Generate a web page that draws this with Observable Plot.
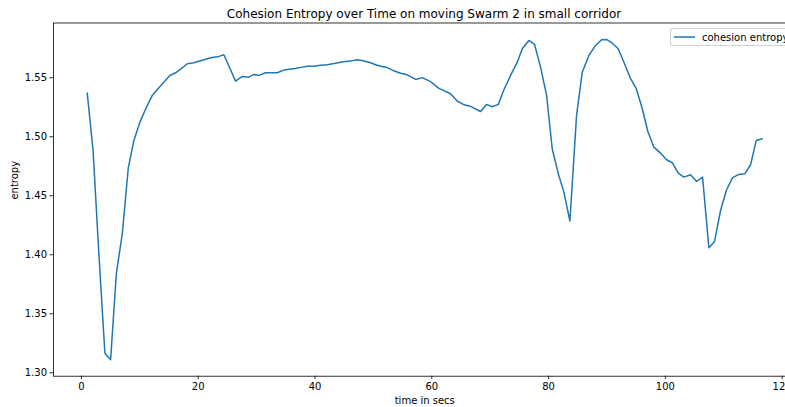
<!DOCTYPE html>
<html>
<head>
<meta charset="utf-8">
<script src="https://cdn.jsdelivr.net/npm/d3@7"></script>
<script src="https://cdn.jsdelivr.net/npm/@observablehq/plot@0.6"></script>
<style>
  html, body { margin: 0; padding: 0; background: #fff; overflow: hidden; }
  body { width: 785px; height: 407px; position: relative; font-family: "DejaVu Sans", sans-serif; }
  #title {
    width: 785px; height: 22px; box-sizing: border-box; padding-top: 5px; padding-left: 63px;
    line-height: 18px; font-size: 12px; text-align: center; color: #000; white-space: nowrap;
  }
  #chart { width: 785px; overflow: hidden; }
  #chart svg { overflow: hidden; display: block; }
  #legend {
    position: absolute; left: 670px; top: 28px; height: 18px; width: 115px;
    box-sizing: border-box; border: 1px solid #d0d0d0; border-right: none; border-radius: 3px 0 0 3px;
    background: rgba(255,255,255,0.8); font-size: 10px; color: #000; overflow: hidden;
    display: flex; align-items: center; padding-left: 3px; white-space: nowrap;
  }
  #legend svg { margin-right: 7px; flex: none; }
</style>
</head>
<body>
<div id="title">Cohesion Entropy over Time on moving Swarm 2 in small corridor</div>
<div id="chart"></div>
<div id="legend"><svg width="21" height="6"><line x1="0" x2="21" y1="3" y2="3" stroke="#1f77b4" stroke-width="1.5"/></svg><span>cohesion entropy</span></div>
<script>
// Sample times (seconds) and the cohesion entropy measured at each
const time = [1.0, 2.0, 3.0, 4.02, 5.0, 5.98, 7.0, 8.03, 8.99, 10.02, 11.04, 12.14, 13.08, 14.07, 15.15,
  16.13, 17.16, 18.13, 19.26, 20.24, 21.18, 22.12, 23.54, 24.4, 26.4, 27.55, 28.68, 29.54, 30.39, 31.54,
  32.56, 33.54, 34.67, 35.57, 36.6, 37.6, 38.68, 39.81, 40.96, 42.1, 43.27, 44.38, 45.2, 46.1, 47.12,
  48.1, 49.52, 50.38, 51.23, 52.38, 53.37, 54.66, 55.8, 57.23, 58.37, 59.79, 61.22, 63.22, 64.37, 65.5,
  66.64, 68.36, 69.38, 70.36, 71.39, 72.35, 73.49, 74.64, 75.5, 76.63, 77.6, 78.63, 79.66, 80.63, 81.66,
  82.62, 83.65, 84.79, 85.77, 86.9, 88.05, 89.08, 89.93, 90.91, 91.93, 93.01, 94.04, 95.02, 96.05, 97.0,
  98.03, 99.18, 100.21, 101.18, 102.21, 103.17, 104.31, 105.34, 106.37, 107.45, 108.42, 109.45, 110.48,
  111.51, 112.59, 113.61, 114.59, 115.57, 116.59];

const entropy = [1.537, 1.488, 1.400, 1.3166, 1.311, 1.3839, 1.4178, 1.4737, 1.4969, 1.5124, 1.524, 1.535,
  1.5405, 1.546, 1.5519, 1.5542, 1.558, 1.5619, 1.5627, 1.5642, 1.5655, 1.5669, 1.5681, 1.5695, 1.5471,
  1.5511, 1.5505, 1.5528, 1.552, 1.5542, 1.5542, 1.5542, 1.5565, 1.5572, 1.5579, 1.5588, 1.5597, 1.5598,
  1.5605, 1.561, 1.562, 1.5631, 1.5637, 1.5641, 1.5653, 1.5647, 1.5627, 1.561, 1.5598, 1.5586, 1.5562,
  1.5538, 1.5525, 1.5486, 1.5501, 1.5467, 1.541, 1.5364, 1.5301, 1.5272, 1.5258, 1.5214, 1.5274, 1.5254,
  1.5274, 1.5398, 1.552, 1.5632, 1.5746, 1.5816, 1.5782, 1.559, 1.535, 1.4898, 1.4686, 1.4531, 1.4285,
  1.518, 1.5547, 1.5689, 1.5774, 1.5822, 1.5825, 1.5793, 1.5746, 1.5619, 1.5492, 1.5407, 1.5237, 1.5045,
  1.4912, 1.4861, 1.4805, 1.478, 1.4692, 1.4658, 1.4678, 1.4621, 1.4658, 1.4059, 1.4113, 1.4375, 1.4551,
  1.4653, 1.4681, 1.4686, 1.4763, 1.4969, 1.4983];

const xTicks = [0, 20, 40, 60, 80, 100, 120];
const yTicks = [1.30, 1.35, 1.40, 1.45, 1.50, 1.55];
const xLabel = "time in secs";
const yLabel = "entropy";

const rows = time.map((t, i) => ({t, v: entropy[i]}));

// The axes run on past the right edge of the page, so the right margin is negative
const chart = Plot.plot({
  width: 785,
  height: 385,
  marginLeft: 53,
  marginRight: -10.5,
  marginTop: 0.5,
  marginBottom: 31.3,
  style: {fontFamily: "DejaVu Sans", fontSize: "10px", color: "#000", background: "transparent"},
  x: {domain: [-4.78, 122.37]},
  y: {domain: [1.2971, 1.5964]},
  marks: [
    Plot.line(rows, {x: "t", y: "v", stroke: "#1f77b4", strokeWidth: 1.5, strokeLinejoin: "round"}),
    Plot.frame({stroke: "#000", strokeWidth: 0.8}),
    Plot.axisX({ticks: xTicks, tickSize: 3.5, tickPadding: 3.5, strokeWidth: 0.8, label: null, fontSize: 10}),
    Plot.axisY({ticks: yTicks, tickFormat: d3.format(".2f"), tickSize: 3.5, tickPadding: 3, strokeWidth: 0.8, label: null, fontSize: 10}),
    Plot.text([xLabel], {x: [(-4.78 + 122.37) / 2], frameAnchor: "bottom", lineAnchor: "top", dy: 20.7, fontSize: 10, fill: "#000"}),
    Plot.text([yLabel], {frameAnchor: "left", rotate: -90, lineAnchor: "middle", dx: -39, fontSize: 10, fill: "#000"})
  ]
});
document.getElementById("chart").appendChild(chart);
</script>
</body>
</html>
